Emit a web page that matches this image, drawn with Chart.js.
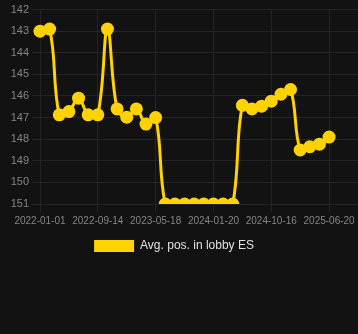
<!DOCTYPE html>
<html>
<head>
<meta charset="utf-8">
<script src="https://cdn.jsdelivr.net/npm/chart.js@4.4.1/dist/chart.umd.min.js"></script>
<style>
  html,body{margin:0;padding:0;background:#121212;}
  #wrap{width:358px;height:262px;position:relative;}
</style>
</head>
<body>
<div id="wrap"><canvas id="posChart"></canvas></div>
<script>
// dates (only every 6th one is shown on the axis)
const dates = [
  '2022-01-01','2022-02-13','2022-03-28','2022-05-10','2022-06-22','2022-08-03',
  '2022-09-14','2022-10-25','2022-12-05','2023-01-15','2023-02-25','2023-04-07',
  '2023-05-18','2023-06-28','2023-08-08','2023-09-18','2023-10-29','2023-12-10',
  '2024-01-20','2024-03-05','2024-04-19','2024-06-03','2024-07-18','2024-09-01',
  '2024-10-16','2024-11-26','2025-01-06','2025-02-16','2025-03-29','2025-05-09',
  '2025-06-20','2025-07-31','2025-09-10','2025-10-21'
];
const avgPos = [
  143.0,142.9,146.87,146.72,146.1,146.87,
  146.87,142.9,146.6,146.98,146.6,147.3,
  147.0,151,151,151,151,151,
  151,151,151,146.43,146.6,146.47,
  146.24,145.92,145.7,148.5,148.35,148.23,
  147.9
];
const yTicks = [142,143,144,145,146,147,148,149,150,151];
const seriesName = 'Avg. pos. in lobby ES';

const gold = '#FFD200';
const gridClr = '#242424';
const tickClr = '#858585';
const fam = "'Liberation Sans',Arial,sans-serif";

// nudge the legend a little to the left, like the original
const legendShift = {
  id:'legendShift',
  afterLayout(chart){ if(chart.legend){ chart.legend.left-=5; chart.legend.right-=5; } }
};

new Chart(document.getElementById('posChart'), {
  type:'line',
  data:{
    labels:dates,
    datasets:[{
      label:seriesName,
      data:avgPos,
      borderColor:gold, backgroundColor:gold,
      borderWidth:3, pointRadius:5, pointHoverRadius:5,
      pointBackgroundColor:gold, pointBorderColor:gold,
      tension:0.4
    }]
  },
  plugins:[legendShift],
  options:{
    responsive:true, maintainAspectRatio:false, animation:false,
    layout:{autoPadding:false},
    plugins:{
      legend:{position:'bottom',
        labels:{color:'#e0e0e0',boxWidth:40,boxHeight:12,font:{family:fam,size:12},
          generateLabels:ch=>Chart.defaults.plugins.legend.labels.generateLabels(ch).map(l=>({...l,lineWidth:0}))}},
      tooltip:{enabled:false}
    },
    scales:{
      x:{
        grid:{color:gridClr}, border:{color:gridClr},
        ticks:{color:tickClr,autoSkip:false,maxRotation:0,
          font:{family:fam,size:10},
          callback:(v,i)=> i%6===0 ? dates[i] : null}
      },
      y:{
        reverse:true, min:yTicks[0], max:yTicks[yTicks.length-1],
        afterBuildTicks:ax=>{ax.ticks=yTicks.map(v=>({value:v}));},
        afterFit:ax=>{ax.width=40;},
        grid:{color:gridClr}, border:{color:gridClr},
        ticks:{color:tickClr,font:{family:fam,size:11}}
      }
    }
  }
});
</script>
</body>
</html>
